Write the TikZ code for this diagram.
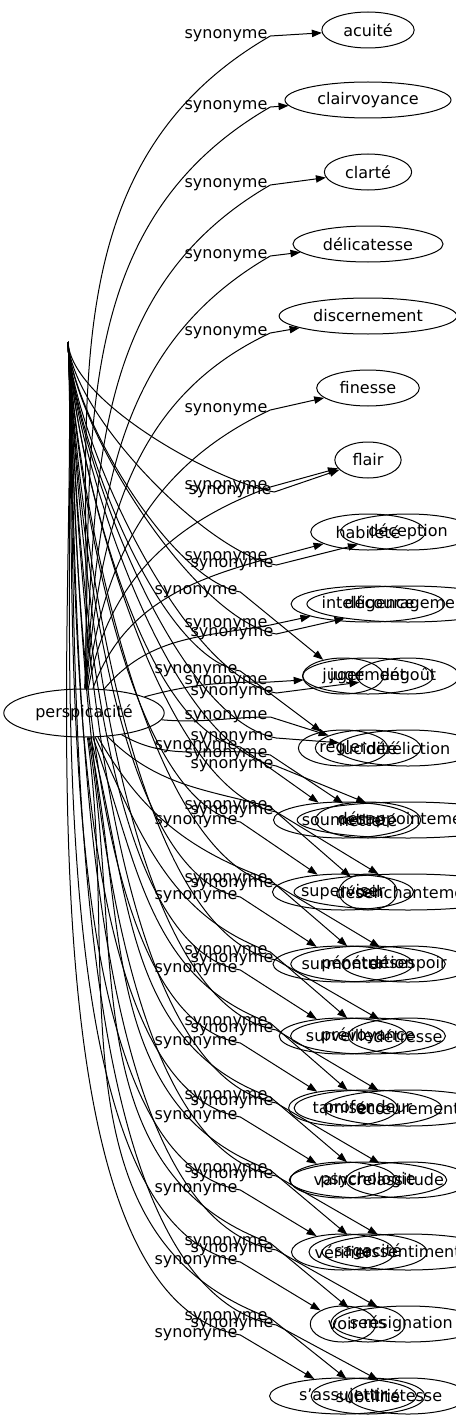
\documentclass[tikz,border=0pt]{standalone}
\usepackage{fontspec}
\setmainfont{DejaVu Sans}
\usetikzlibrary{arrows.meta,shapes.geometric}

\tikzset{
	mot/.style={ellipse,draw,line width=0.75pt,inner xsep=6pt,inner ysep=3pt,minimum height=27pt,font=\fontsize{12}{14}\selectfont},
	etiq/.style={inner sep=2pt,font=\fontsize{12}{14}\selectfont},
	lien/.style={line width=0.75pt,-{Triangle[length=7.5pt,width=5.5pt]}},
	issu/.style={out=-87,in=170,looseness=0.6},
}

\begin{document}
\begin{tikzpicture}[x=0.75pt,y=0.75pt]
	\useasboundingbox (0,0) rectangle (456,-1427);
	\clip (0,0) rectangle (456,-1427);
	
	\coordinate (sommet) at (68,-342);
	\node[mot,minimum height=36pt] (persp) at (84,-713) {perspicacité};
	
	% synonymes de perspicacite
	\foreach \nom/\txt/\y/\ly/\dep/\arr in {
		a1/acuité/30/36/88/210, a2/clairvoyance/100/107/88/210,
		a3/clarté/172/185/87/210, a4/délicatesse/244/256/86/210,
		a5/discernement/316/333/85/205, a6/finesse/388/410/83/205,
		a7/flair/460/487/80/200, a8/habileté/532/558/70/195,
		a9/intelligence/604/625/50/190, a10/jugement/676/682/15/180,
		a11/lucidité/748/717/-5/180, a12/netteté/820/755/-30/170,
		a13/œil/892/807/-45/165, a14/pénétration/964/880/-60/160,
		a15/prévoyance/1036/952/-65/160, a16/profondeur/1108/1023/-70/160,
		a17/psychologie/1180/1097/-75/160, a18/sagacité/1252/1170/-78/160,
		a19/sens/1324/1243/-80/160, a20/subtilité/1396/1318/-82/160}
	{
		\node[mot] (\nom) at (368,-\y) {\txt};
		\node[etiq] (l\nom) at (226,-\ly) {synonyme};
		\draw[lien] (persp) to[out=\dep,in=\arr] (l\nom.east) -- (\nom);
	}
	
	% seconde colonne
	\foreach \nom/\txt/\y/\ly in {
		c8/déception/532/565, c9/découragement/604/634, c10/dégoût/676/693,
		c11/déréliction/748/738, c12/désappointement/820/766,
		c13/désenchantement/892/812, c14/désespoir/964/885,
		c15/détresse/1036/960, c16/écœurement/1108/1030,
		c17/lassitude/1180/1103, c18/ressentiment/1252/1176,
		c19/résignation/1324/1250, c20/tristesse/1396/1325}
	{
		\node[mot] (\nom) at (408,-\y) {\txt};
		\node[etiq] (l\nom) at (232,-\ly) {synonyme};
		\draw[lien] (sommet) to[issu] (l\nom.east) -- (\nom);
	}
	
	% troisieme colonne
	\foreach \nom/\txt/\y/\ly in {
		b10/juger/676/592, b11/régler/748/671, b12/soumettre/820/747,
		b13/superviser/892/822, b14/surmonter/964/897,
		b15/surveiller/1036/970, b16/tamiser/1108/1043,
		b17/vaincre/1180/1117, b18/vérifier/1252/1190,
		b19/voir/1324/1262, b20/s'assujettir/1396/1335}
	{
		\node[mot] (\nom) at (343,-\y) {\txt};
		\node[etiq] (l\nom) at (196,-\ly) {synonyme};
		\draw[lien] (sommet) to[issu] (l\nom.east) -- (\nom);
	}
	
	\node[etiq] (lbis) at (230,-492) {synonyme};
	\draw[lien] (sommet) to[issu] (lbis.east) -- (a7);
\end{tikzpicture}
\end{document}
